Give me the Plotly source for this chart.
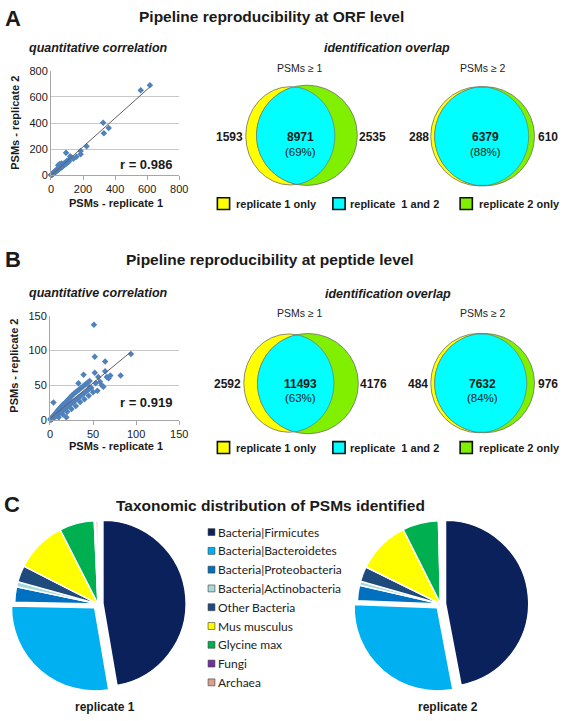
import numpy as np
import plotly.graph_objects as go

W, H = 567, 721

# ---------------- data ----------------
# Panel A : ORF-level PSM counts, replicate 1 vs replicate 2
orf_rep1 = [1, 2, 3, 4, 5, 6, 7, 8, 9, 10, 11, 12, 13, 14, 15, 16, 17, 18, 20, 21, 22, 24, 25, 26,
            28, 29, 30, 32, 33, 35, 36, 38, 40, 41, 43, 45, 47, 48, 50, 52, 54, 55, 58, 60, 62, 63,
            66, 68, 70, 72, 75, 78, 80, 82, 85, 88, 90, 95, 98, 100, 104, 108, 112,
            45, 55, 65, 94, 128, 159, 120, 140, 185, 185, 222, 326, 330, 360, 560, 617]
orf_rep2 = [1, 3, 2, 5, 4, 7, 6, 10, 8, 11, 9, 14, 12, 16, 13, 18, 15, 20, 18, 24, 21, 27, 22, 30,
            26, 33, 28, 36, 31, 40, 33, 42, 37, 46, 40, 50, 44, 55, 47, 58, 50, 62, 54, 66, 57, 70,
            62, 75, 65, 80, 70, 85, 74, 90, 80, 95, 85, 100, 92, 108, 98, 115, 105,
            75, 85, 90, 171, 134, 141, 145, 125, 186, 161, 221, 402, 322, 362, 651, 689]

# Panel B : peptide-level PSM counts
pep_rep1 = [0.5, 1, 1, 2, 2, 3, 3, 4, 4, 5, 5, 6, 6, 7, 7, 8, 8, 9, 9, 10, 10, 11, 11, 12, 12, 13,
            13, 14, 14, 15, 15, 16, 16, 17, 18, 18, 19, 20, 20, 21, 22, 22, 23, 24, 25, 25, 26, 27,
            28, 28, 30, 30, 32, 32, 34, 34, 36, 36, 38, 38, 40, 40, 42, 42, 44, 45, 46, 48,
            10, 15, 20, 25, 30, 35, 40, 45, 50, 55, 60, 62,
            4, 19, 33, 39, 46, 51, 52, 52, 53, 64, 64, 66, 68, 70, 82, 94, 58, 56]
pep_rep2 = [1, 0.5, 2, 1, 3, 2, 4, 3, 6, 4, 7, 5, 9, 6, 10, 7, 12, 8, 13, 9, 15, 10, 16, 11, 18, 12,
            19, 13, 20, 14, 22, 15, 23, 16, 25, 17, 26, 19, 28, 20, 30, 21, 32, 23, 34, 24, 36, 26,
            38, 27, 40, 29, 42, 31, 44, 33, 46, 35, 48, 37, 50, 39, 52, 41, 54, 44, 47, 46,
            4, 8, 12, 16, 20, 26, 30, 35, 40, 42, 50, 48,
            25, 4, 53, 65, 56, 137, 91, 68, 53, 84, 70, 62, 60, 64, 64, 95, 55, 62]

orf_r_text = "r = 0.986"
pep_r_text = "r = 0.919"
orf_ticks = [0, 200, 400, 600, 800]
pep_ticks = [0, 50, 100, 150]

# Venn counts: [PSMs >= 1, PSMs >= 2]
venn_thresholds = ["PSMs ≥ 1", "PSMs ≥ 2"]
orf_only1 = [1593, 288]
orf_both = [8971, 6379]
orf_only2 = [2535, 610]
orf_pct = [69, 88]
pep_only1 = [2592, 484]
pep_both = [11493, 7632]
pep_only2 = [4176, 976]
pep_pct = [63, 84]
venn_legend = ["replicate 1 only", "replicate \u00a01 and 2", "replicate 2 only"]

# Panel C : taxonomic distribution (% of PSMs)
taxa = ["Bacteria|Firmicutes", "Bacteria|Bacteroidetes", "Bacteria|Proteobacteria",
        "Bacteria|Actinobacteria", "Other Bacteria", "Mus musculus", "Glycine max",
        "Fungi", "Archaea"]
rep1_share = [47.3, 28.0, 3.0, 1.0, 3.2, 10.0, 6.8, 0.3, 0.4]
rep2_share = [47.0, 28.6, 3.0, 0.8, 2.9, 10.3, 7.0, 0.2, 0.2]

# ---------------- styles ----------------
FONT = "Liberation Sans, Arial, sans-serif"
LEG_FONT = "Lato, Open Sans, sans-serif"
TXT = "#1a1a1a"
POINT = "#4f81bd"
taxa_colors = ["#0b215c", "#00b0f0", "#0070c0", "#a9dada", "#1f4a7c",
               "#ffff00", "#00b050", "#7030a0", "#d9a08c"]
YEL, CYA, GRN = "#ffff00", "#00ffff", "#80f000"
venn_colors = [YEL, CYA, GRN]

fig = go.Figure()
ann = []
shapes = []


def text(x, y, s, size, bold=False, italic=False, anchor="center", angle=0, family=FONT, color=TXT):
    if bold:
        s = "<b>" + s + "</b>"
    if italic:
        s = "<i>" + s + "</i>"
    ann.append(dict(x=x, y=y, xref="x3", yref="y3", text=s, showarrow=False,
                    xanchor=anchor, yanchor="middle", textangle=angle,
                    font=dict(family=family, size=size, color=color)))


# ---------------- scatter panels ----------------
def scatter_panel(xs, ys, xaxis, yaxis):
    xs = np.asarray(xs, float)
    ys = np.asarray(ys, float)
    fig.add_trace(go.Scatter(x=xs, y=ys, mode="markers", xaxis=xaxis, yaxis=yaxis,
                             marker=dict(symbol="diamond", size=5, color=POINT),
                             cliponaxis=False, showlegend=False, hoverinfo="skip"))
    slope, icpt = np.polyfit(xs, ys, 1)
    fx = np.array([xs.min(), xs.max()])
    fig.add_trace(go.Scatter(x=fx, y=slope * fx + icpt, mode="lines", xaxis=xaxis, yaxis=yaxis,
                             line=dict(color="#606060", width=1),
                             showlegend=False, hoverinfo="skip"))


scatter_panel(orf_rep1, orf_rep2, "x", "y")
scatter_panel(pep_rep1, pep_rep2, "x2", "y2")


def axis_common(**kw):
    d = dict(showline=True, linecolor="#a6a6a6", linewidth=1, zeroline=False,
             tickfont=dict(family=FONT, size=11, color=TXT), fixedrange=True)
    d.update(kw)
    return d


def xdom(a, b):
    return [a / W, b / W]


def ydom(top, bottom):
    return [1 - bottom / H, 1 - top / H]


fig.update_layout(
    xaxis=axis_common(domain=xdom(49, 180), range=[0, 800], tickvals=orf_ticks, showgrid=False,
                      ticks="outside", ticklen=4, tickcolor="#a6a6a6", anchor="y"),
    yaxis=axis_common(domain=ydom(66, 172), range=[0, 800], tickvals=orf_ticks, showgrid=True,
                      gridcolor="#c8c8c8", anchor="x"),
    xaxis2=axis_common(domain=xdom(48, 180), range=[0, 150], tickvals=pep_ticks, showgrid=False,
                       ticks="outside", ticklen=4, tickcolor="#a6a6a6", anchor="y2"),
    yaxis2=axis_common(domain=ydom(315, 421), range=[0, 150], tickvals=pep_ticks, showgrid=True,
                       gridcolor="#c8c8c8", anchor="x2"),
    xaxis3=dict(domain=[0, 1], range=[0, W], visible=False, fixedrange=True, anchor="y3"),
    yaxis3=dict(domain=[0, 1], range=[H, 0], visible=False, fixedrange=True, anchor="x3"),
)
# anchor trace for overlay (pixel) axes
fig.add_trace(go.Scatter(x=[0], y=[0], xaxis="x3", yaxis="y3", mode="markers",
                         marker=dict(opacity=0), showlegend=False, hoverinfo="skip"))

# scatter texts
text(146, 161, orf_r_text, 13, bold=True)
text(146, 403, pep_r_text, 13, bold=True)
text(98, 43, "quantitative correlation", 12.5, bold=True, italic=True)
text(98, 292, "quantitative correlation", 12.5, bold=True, italic=True)
text(115, 200, "PSMs - replicate 1", 11, bold=True)
text(115, 447, "PSMs - replicate 1", 11, bold=True)
text(12, 119, "PSMs - replicate 2", 11, bold=True, angle=-90)
text(11, 366, "PSMs - replicate 2", 11, bold=True, angle=-90)

# ---------------- titles ----------------
text(10, 13, "A", 22, bold=True)
text(10, 258, "B", 22, bold=True)
text(9, 507, "C", 22, bold=True)
text(274, 11, "Pipeline reproducibility at ORF level", 15.5, bold=True)
text(273, 258, "Pipeline reproducibility at peptide level", 15.5, bold=True)
text(273, 508, "Taxonomic distribution of PSMs identified", 15.5, bold=True)
text(392, 43, "identification overlap", 12.5, bold=True, italic=True)
text(393, 293, "identification overlap", 12.5, bold=True, italic=True)

# ---------------- Venn diagrams ----------------
# geometry (pixels): yellow ellipse, green ellipse, label x positions, row offset
venn_geo = [
    ((293.5, 132, 45.5, 50), (310.5, 131.5, 51.5, 51), 231, 304, 377, 0),
    ((487, 132.5, 50, 50.5), (492, 132.5, 51, 50.5), 425, 493, 557, 0),
    ((292, 383.5, 46, 50), (311.5, 384, 51.5, 51), 229, 304, 378, 251),
    ((486, 383.5, 49, 50.5), (492, 383.5, 51, 50.5), 424, 490, 557, 251),
]
venn_counts = [
    (orf_only1[0], orf_both[0], orf_only2[0], orf_pct[0]),
    (orf_only1[1], orf_both[1], orf_only2[1], orf_pct[1]),
    (pep_only1[0], pep_both[0], pep_only2[0], pep_pct[0]),
    (pep_only1[1], pep_both[1], pep_only2[1], pep_pct[1]),
]


def lens_path(e1, e2, n=160):
    cx1, cy1, rx1, ry1 = e1
    cx2, cy2, rx2, ry2 = e2
    top = max(cy1 - ry1, cy2 - ry2)
    bot = min(cy1 + ry1, cy2 + ry2)
    ys = np.linspace(top, bot, n)
    L, R = [], []
    for y in ys:
        t1 = max(0.0, 1 - ((y - cy1) / ry1) ** 2)
        t2 = max(0.0, 1 - ((y - cy2) / ry2) ** 2)
        h1 = rx1 * np.sqrt(t1)
        h2 = rx2 * np.sqrt(t2)
        lft = max(cx1 - h1, cx2 - h2)
        rgt = min(cx1 + h1, cx2 + h2)
        if rgt > lft:
            L.append((lft, y))
            R.append((rgt, y))
    pts = L + R[::-1]
    return "M " + " L ".join(f"{x:.2f},{y:.2f}" for x, y in pts) + " Z"


for i, (ye, ge, lx, cxn, rx, off) in enumerate(venn_geo):
    for (cx, cy, rxx, ryy), col in [(ye, YEL), (ge, GRN)]:
        shapes.append(dict(type="circle", xref="x3", yref="y3", x0=cx - rxx, x1=cx + rxx,
                           y0=cy - ryy, y1=cy + ryy, fillcolor=col,
                           line=dict(color="#6e6e6e", width=0.8)))
    shapes.append(dict(type="path", xref="x3", yref="y3", path=lens_path(ye, ge),
                       fillcolor=CYA, line=dict(color="#6e6e6e", width=0.7)))
    a, b, c, pct = venn_counts[i]
    rowy = 133 + off
    text(lx, rowy, str(a), 12, bold=True)
    text(cxn, rowy, str(b), 12, bold=True)
    text(cxn, rowy + 15, f"({pct}%)", 11.5)
    text(rx, rowy, str(c), 12, bold=True)
    labx = 303 if i % 2 == 0 else 490
    text(labx, 63 + (249 if off else 0), venn_thresholds[i % 2], 10.5, color="#222222")

# Venn legends
leg_sq_x = [219, 337, 467]
leg_tx_x = [236, 352, 484]
for ly in [201, 449]:
    for k in range(3):
        shapes.append(dict(type="rect", xref="x3", yref="y3", x0=leg_sq_x[k], x1=leg_sq_x[k] + 12.5,
                           y0=ly - 6, y1=ly + 6, fillcolor=venn_colors[k],
                           line=dict(color="#111111", width=1.6)))
        text(leg_tx_x[k], ly, venn_legend[k], 11, bold=True, anchor="left")

# ---------------- pies ----------------
PULL = 0.06
pulls = [PULL, PULL, 0, 0, 0, 0, 0, 0, 0]
R_PIE = 85
for cx, cy, vals in [(97, 608, rep1_share), (447, 608, rep2_share)]:
    half = R_PIE * (1 + PULL)
    fig.add_trace(go.Pie(values=vals, labels=taxa, sort=False, direction="clockwise", rotation=0,
                         marker=dict(colors=taxa_colors, line=dict(color="white", width=1.5)),
                         pull=pulls, textinfo="none", hoverinfo="label+percent",
                         showlegend=False,
                         domain=dict(x=xdom(cx - half, cx + half), y=ydom(cy - half, cy + half))))
text(104, 713, "replicate 1", 12, bold=True)
text(455, 713, "replicate 2", 12, bold=True)

# pie legend
for k, (lab, col) in enumerate(zip(taxa, taxa_colors)):
    yy = 535 + k * 19.1
    shapes.append(dict(type="rect", xref="x3", yref="y3", x0=209.5, x1=216.5, y0=yy - 3.5,
                       y1=yy + 3.5, fillcolor=col, line=dict(color="#3a3a3a", width=0.6)))
    text(218, yy, lab, 12, anchor="left", family=LEG_FONT, color="#222222")

fig.update_layout(
    width=W, height=H, margin=dict(l=0, r=0, t=0, b=0),
    paper_bgcolor="white", plot_bgcolor="rgba(0,0,0,0)",
    annotations=ann, shapes=shapes, showlegend=False,
    font=dict(family=FONT, color=TXT),
)

fig.write_html("out.html", config={"displayModeBar": False},
               post_script="document.body.style.margin='0';")
